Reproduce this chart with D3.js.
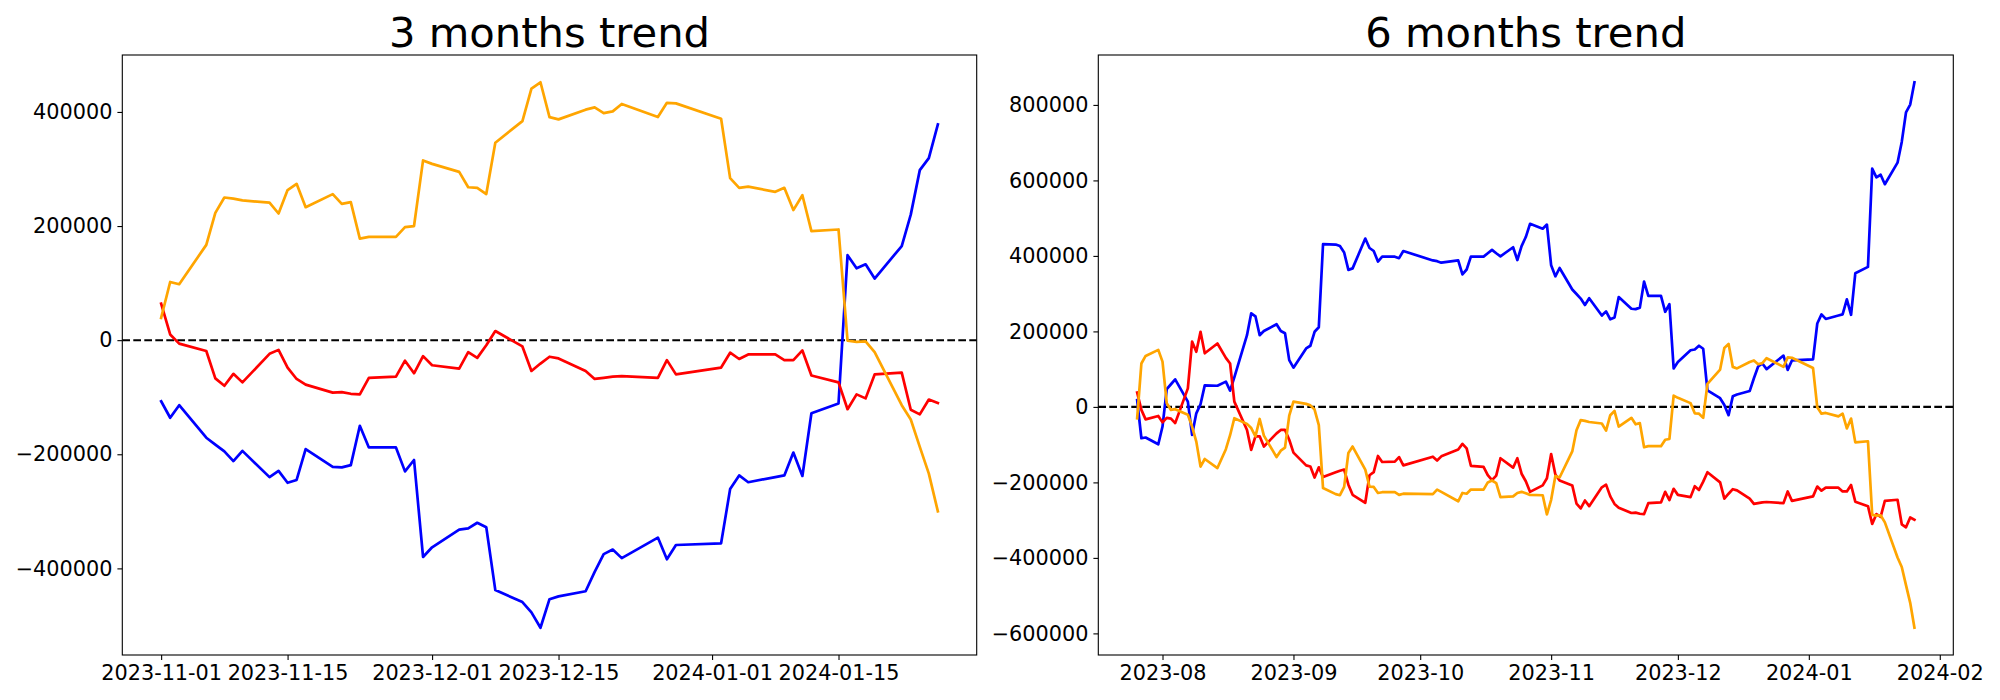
<!DOCTYPE html>
<html>
<head>
<meta charset="utf-8">
<script src="https://cdn.jsdelivr.net/npm/d3@7"></script>
<style>
  html, body { margin: 0; padding: 0; background: #ffffff; }
  svg { display: block; }
</style>
</head>
<body>
<svg id="chart" width="2000" height="700"></svg>
<script>
// ---------------- DATA ----------------
const titles = ["3 months trend", "6 months trend"];
const seriesColors = ["blue", "red", "orange"];

// 3 months chart
const dates3 = ["2023-11-01","2023-11-02","2023-11-03","2023-11-06","2023-11-07","2023-11-08","2023-11-09","2023-11-10","2023-11-13","2023-11-14","2023-11-15","2023-11-16","2023-11-17","2023-11-20","2023-11-21","2023-11-22","2023-11-23","2023-11-24","2023-11-27","2023-11-28","2023-11-29","2023-11-30",
"2023-12-01","2023-12-04","2023-12-05","2023-12-06","2023-12-07","2023-12-08","2023-12-11","2023-12-12","2023-12-13","2023-12-14","2023-12-15","2023-12-18","2023-12-19","2023-12-20","2023-12-21","2023-12-22","2023-12-26","2023-12-27","2023-12-28",
"2024-01-02","2024-01-03","2024-01-04","2024-01-05","2024-01-08","2024-01-09","2024-01-10","2024-01-11","2024-01-12","2024-01-15","2024-01-16","2024-01-17","2024-01-18","2024-01-19","2024-01-22","2024-01-23","2024-01-24","2024-01-25","2024-01-26"];

const blue3 = [-107000,-136000,-114000,-171000,-183000,-195000,-212000,-194000,-240000,-229000,-250000,-245000,-191000,-222000,-223000,-219000,-150000,-188000,-188000,-230000,-210000,-380000,
-363000,-332000,-330000,-320000,-328000,-438000,-459000,-477000,-504000,-454000,-449000,-440000,-406000,-375000,-367000,-382000,-346000,-384000,-359000,
-356000,-261000,-237000,-249000,-240000,-237000,-197000,-238000,-128000,-111000,149000,126000,133000,108000,165000,220000,298000,319000,378000];

const red3 = [64000,10000,-6000,-19000,-67000,-80000,-59000,-74000,-24000,-17000,-48000,-68000,-78000,-92000,-91000,-94000,-95000,-66000,-64000,-36000,-58000,-28000,
-44000,-50000,-21000,-31000,-9000,16000,-11000,-54000,-41000,-29000,-32000,-54000,-68000,-66000,-64000,-63000,-66000,-35000,-60000,
-48000,-22000,-33000,-25000,-25000,-35000,-35000,-18000,-62000,-74000,-121000,-95000,-102000,-60000,-57000,-122000,-130000,-104000,-110000];

const orange3 = [39000,102000,98000,167000,223000,250000,248000,245000,241000,222000,263000,274000,233000,256000,239000,242000,178000,181000,181000,198000,200000,315000,
309000,295000,268000,267000,256000,346000,384000,441000,452000,391000,387000,404000,408000,398000,401000,414000,391000,416000,415000,
388000,284000,267000,269000,260000,267000,228000,254000,191000,194000,-1000,-3000,-2000,-21000,-114000,-139000,-187000,-234000,-300000];

// 6 months chart
const dates6 = ["2023-07-26","2023-07-27","2023-07-28","2023-07-31",
"2023-08-01","2023-08-02","2023-08-03","2023-08-04","2023-08-07","2023-08-08","2023-08-09","2023-08-10","2023-08-11","2023-08-14","2023-08-16","2023-08-17","2023-08-18","2023-08-21","2023-08-22","2023-08-23","2023-08-24","2023-08-25","2023-08-28","2023-08-29","2023-08-30","2023-08-31",
"2023-09-01","2023-09-04","2023-09-05","2023-09-06","2023-09-07","2023-09-08","2023-09-11","2023-09-12","2023-09-13","2023-09-14","2023-09-15","2023-09-18","2023-09-19","2023-09-20","2023-09-21","2023-09-22","2023-09-25","2023-09-26","2023-09-27",
"2023-10-04","2023-10-05","2023-10-06","2023-10-10","2023-10-11","2023-10-12","2023-10-13","2023-10-16","2023-10-17","2023-10-18","2023-10-19","2023-10-20","2023-10-23","2023-10-24","2023-10-25","2023-10-26","2023-10-27","2023-10-30","2023-10-31",
"2023-11-01","2023-11-02","2023-11-03","2023-11-06","2023-11-07","2023-11-08","2023-11-09","2023-11-10","2023-11-13","2023-11-14","2023-11-15","2023-11-16","2023-11-17","2023-11-20","2023-11-21","2023-11-22","2023-11-23","2023-11-24","2023-11-27","2023-11-28","2023-11-29","2023-11-30",
"2023-12-01","2023-12-04","2023-12-05","2023-12-06","2023-12-07","2023-12-08","2023-12-11","2023-12-12","2023-12-13","2023-12-14","2023-12-15","2023-12-18","2023-12-19","2023-12-20","2023-12-21","2023-12-22","2023-12-26","2023-12-27","2023-12-28",
"2024-01-02","2024-01-03","2024-01-04","2024-01-05","2024-01-08","2024-01-09","2024-01-10","2024-01-11","2024-01-12","2024-01-15","2024-01-16","2024-01-17","2024-01-18","2024-01-19","2024-01-22","2024-01-23","2024-01-24","2024-01-25","2024-01-26"];

const blue6 = [18000,-83000,-81000,-99000,
-52000,47000,60000,73000,14000,-74000,-17000,7000,57000,56000,67000,43000,78000,190000,248000,240000,190000,201000,219000,201000,195000,124000,
104000,155000,162000,199000,211000,431000,430000,426000,409000,363000,367000,446000,421000,413000,385000,398000,398000,394000,413000,
388000,386000,382000,388000,351000,364000,398000,398000,407000,416000,407000,399000,423000,389000,426000,450000,485000,472000,483000,
375000,346000,368000,311000,299000,287000,270000,288000,242000,253000,232000,237000,291000,260000,259000,263000,332000,294000,294000,252000,272000,102000,
119000,150000,152000,162000,154000,44000,23000,5000,-22000,28000,33000,42000,76000,107000,115000,100000,136000,98000,123000,
126000,221000,245000,233000,242000,245000,285000,244000,354000,371000,631000,608000,615000,590000,647000,702000,780000,801000,860000];

const red6 = [38000,-8000,-33000,-24000,
-41000,-29000,-31000,-43000,49000,173000,146000,199000,142000,168000,130000,115000,14000,-61000,-114000,-78000,-78000,-105000,-70000,-61000,-61000,-87000,
-121000,-155000,-158000,-187000,-160000,-186000,-173000,-169000,-166000,-206000,-233000,-254000,-181000,-173000,-130000,-146000,-145000,-133000,-155000,
-132000,-142000,-131000,-113000,-98000,-110000,-156000,-159000,-181000,-194000,-182000,-136000,-161000,-136000,-177000,-197000,-225000,-208000,-189000,
-125000,-179000,-195000,-208000,-256000,-269000,-248000,-263000,-213000,-206000,-237000,-257000,-267000,-281000,-280000,-283000,-284000,-255000,-253000,-225000,-247000,-217000,
-233000,-239000,-210000,-220000,-198000,-173000,-200000,-243000,-230000,-218000,-221000,-243000,-257000,-255000,-253000,-252000,-255000,-224000,-249000,
-237000,-211000,-222000,-214000,-214000,-224000,-224000,-207000,-251000,-263000,-310000,-284000,-291000,-249000,-246000,-311000,-319000,-293000,-299000];

const orange6 = [-30000,115000,135000,151000,
120000,10000,-8000,-6000,-21000,-52000,-92000,-158000,-138000,-162000,-112000,-75000,-30000,-45000,-56000,-78000,-32000,-76000,-133000,-116000,-108000,-23000,
14000,8000,4000,-7000,-48000,-215000,-231000,-234000,-212000,-122000,-105000,-166000,-211000,-212000,-228000,-226000,-226000,-233000,-230000,
-231000,-219000,-225000,-250000,-228000,-230000,-219000,-219000,-200000,-195000,-202000,-239000,-237000,-228000,-225000,-229000,-233000,-234000,-285000,
-246000,-183000,-187000,-118000,-62000,-35000,-37000,-40000,-44000,-63000,-22000,-11000,-52000,-29000,-46000,-43000,-107000,-104000,-104000,-87000,-85000,30000,
24000,10000,-17000,-18000,-29000,61000,99000,156000,167000,106000,102000,119000,123000,113000,116000,129000,106000,131000,130000,
103000,-1000,-18000,-16000,-25000,-18000,-57000,-31000,-94000,-91000,-286000,-288000,-287000,-306000,-399000,-424000,-472000,-519000,-585000];

// ticks
const xTicks3 = ["2023-11-01","2023-11-15","2023-12-01","2023-12-15","2024-01-01","2024-01-15"];
const xTicks6 = ["2023-08-01","2023-09-01","2023-10-01","2023-11-01","2023-12-01","2024-01-01","2024-02-01"];
const yTicks3 = [-400000,-200000,0,200000,400000];
const yTicks6 = [-600000,-400000,-200000,0,200000,400000,600000,800000];

// ---------------- DRAW ----------------
const parse = d3.timeParse("%Y-%m-%d");
const svg = d3.select("#chart");
svg.append("rect").attr("width",2000).attr("height",700).attr("fill","#ffffff");

const FONT = "DejaVu Sans";
const TICK_PX = 20.8;
const TITLE_PX = 41.7;
const TICK_LEN = 4.9;

function pad(ext, frac) {
  const span = ext[1] - ext[0];
  return [ext[0] - span*frac, ext[1] + span*frac];
}
function minusFmt(d) { return d < 0 ? "\u2212" + Math.abs(d) : String(d); }

function drawPanel(box, title, dateStrs, seriesList, xTickStrs, xFmt, yTickVals) {
  const dates = dateStrs.map(parse);
  const g = svg.append("g");

  const tExt = d3.extent(dates).map(d => +d);
  const xDom = pad(tExt, 0.05).map(t => new Date(t));
  const x = d3.scaleTime().domain(xDom).range([box.left, box.right]);

  const allVals = seriesList.flatMap(s => s.values);
  const y = d3.scaleLinear().domain(pad(d3.extent(allVals), 0.05)).range([box.bottom, box.top]);

  // zero reference line
  g.append("line")
    .attr("x1", box.left).attr("x2", box.right)
    .attr("y1", y(0)).attr("y2", y(0))
    .attr("stroke", "#000").attr("stroke-width", 2.08)
    .attr("stroke-dasharray", "7.7,3.3");

  // series lines
  const line = d3.line().x(d => x(d.date)).y(d => y(d.v));
  seriesList.forEach(s => {
    const pts = dates.map((dt, i) => ({date: dt, v: s.values[i]}));
    g.append("path").datum(pts)
      .attr("d", line)
      .attr("fill", "none")
      .attr("stroke", s.color)
      .attr("stroke-width", 2.7)
      .attr("stroke-linejoin", "round")
      .attr("stroke-linecap", "square");
  });

  // axes
  const xAxis = d3.axisBottom(x)
    .tickValues(xTickStrs.map(parse))
    .tickFormat(d3.timeFormat(xFmt))
    .tickSize(TICK_LEN).tickPadding(5.5).tickSizeOuter(0);
  const gx = g.append("g").attr("transform", `translate(0,${box.bottom})`).call(xAxis);
  gx.select(".domain").remove();

  const yAxis = d3.axisLeft(y)
    .tickValues(yTickVals)
    .tickFormat(minusFmt)
    .tickSize(TICK_LEN).tickPadding(4.9).tickSizeOuter(0);
  const gy = g.append("g").attr("transform", `translate(${box.left},0)`).call(yAxis);
  gy.select(".domain").remove();

  [gx, gy].forEach(ax => {
    ax.attr("font-family", FONT).attr("font-size", TICK_PX);
    ax.selectAll("text").attr("fill", "#000");
    ax.selectAll("line").attr("stroke", "#000").attr("stroke-width", 1.1);
  });

  // frame
  g.append("rect")
    .attr("x", box.left).attr("y", box.top)
    .attr("width", box.right - box.left).attr("height", box.bottom - box.top)
    .attr("fill", "none").attr("stroke", "#000").attr("stroke-width", 1.1);

  // title
  g.append("text")
    .attr("x", (box.left + box.right) / 2).attr("y", box.top - 8.5)
    .attr("text-anchor", "middle")
    .attr("font-family", FONT).attr("font-size", TITLE_PX)
    .attr("fill", "#000")
    .text(title);
}

drawPanel({left:122.3, right:976.7, top:55, bottom:655}, titles[0], dates3,
  [{values: blue3, color: seriesColors[0]}, {values: red3, color: seriesColors[1]}, {values: orange3, color: seriesColors[2]}],
  xTicks3, "%Y-%m-%d", yTicks3);

drawPanel({left:1098.3, right:1953.3, top:55, bottom:655}, titles[1], dates6,
  [{values: blue6, color: seriesColors[0]}, {values: red6, color: seriesColors[1]}, {values: orange6, color: seriesColors[2]}],
  xTicks6, "%Y-%m", yTicks6);
</script>
</body>
</html>
